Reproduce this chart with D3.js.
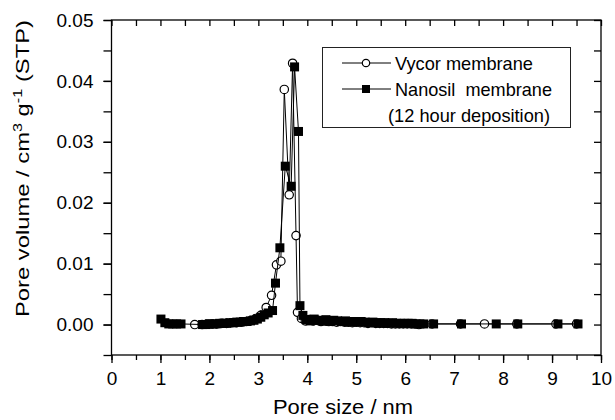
<!DOCTYPE html>
<html>
<head>
<meta charset="utf-8">
<script src="https://cdn.jsdelivr.net/npm/d3@7"></script>
<style>
body { margin: 0; background: #fff; }
text { font-family: Arial, "Liberation Sans", sans-serif; fill: #000; }
</style>
</head>
<body>
<div id="chart"></div>
<script>
// pore size (nm), pore volume (cm3/g STP)
var vycor = [
	[1.70, 0.0000], [1.85, 0.0000], [1.95, 0.0001], [2.05, 0.0001], [2.15, 0.0001],
	[2.25, 0.0002], [2.35, 0.0002], [2.45, 0.0003], [2.55, 0.0003], [2.65, 0.0004],
	[2.75, 0.0005], [2.85, 0.0007], [2.95, 0.0010], [3.05, 0.0015], [3.16, 0.0028],
	[3.27, 0.0048], [3.37, 0.0098], [3.46, 0.0104], [3.53, 0.0386], [3.63, 0.0213],
	[3.70, 0.0429], [3.77, 0.0146], [3.80, 0.0020], [3.88, 0.0010], [3.96, 0.0006],
	[4.04, 0.0008], [4.12, 0.0006], [4.20, 0.0007], [4.28, 0.0005], [4.36, 0.0006],
	[4.44, 0.0005], [4.52, 0.0005], [4.60, 0.0004], [4.68, 0.0005], [4.76, 0.0004],
	[4.84, 0.0004], [4.92, 0.0003], [5.00, 0.0004], [5.08, 0.0003], [5.16, 0.0003],
	[5.24, 0.0002], [5.32, 0.0003], [5.40, 0.0002], [5.48, 0.0002], [5.56, 0.0002],
	[5.64, 0.0002], [5.72, 0.0001], [5.80, 0.0001], [5.88, 0.0001], [5.96, 0.0001],
	[6.04, 0.0001], [6.12, 0.0001], [6.20, 0.0001], [6.28, 0.0000], [6.55, 0.0001],
	[7.13, 0.0001], [7.62, 0.0001], [8.28, 0.0001], [9.08, 0.0001], [9.50, 0.0001]
];

var nanosil = [
	[1.01, 0.0009], [1.09, 0.0003], [1.17, 0.0001], [1.25, 0.0001], [1.33, 0.0001],
	[1.42, 0.0001], [1.86, 0.0000], [1.93, 0.0000], [2.00, 0.0001], [2.07, 0.0001],
	[2.14, 0.0001], [2.21, 0.0002], [2.28, 0.0002], [2.35, 0.0002], [2.42, 0.0003],
	[2.49, 0.0003], [2.56, 0.0004], [2.63, 0.0004], [2.70, 0.0005], [2.77, 0.0005],
	[2.84, 0.0006], [2.91, 0.0007], [2.98, 0.0009], [3.05, 0.0012], [3.12, 0.0016],
	[3.20, 0.0019], [3.29, 0.0023], [3.35, 0.0068], [3.44, 0.0126], [3.55, 0.0260],
	[3.67, 0.0227], [3.74, 0.0423], [3.82, 0.0317], [3.85, 0.0031], [3.91, 0.0015],
	[3.98, 0.0008], [4.06, 0.0006], [4.14, 0.0009], [4.22, 0.0007], [4.30, 0.0006],
	[4.38, 0.0008], [4.46, 0.0005], [4.54, 0.0007], [4.62, 0.0006], [4.70, 0.0005],
	[4.78, 0.0006], [4.86, 0.0004], [4.94, 0.0005], [5.02, 0.0004], [5.10, 0.0005],
	[5.18, 0.0004], [5.26, 0.0003], [5.34, 0.0004], [5.42, 0.0003], [5.50, 0.0003],
	[5.58, 0.0003], [5.66, 0.0002], [5.74, 0.0003], [5.82, 0.0002], [5.90, 0.0002],
	[5.98, 0.0002], [6.06, 0.0002], [6.14, 0.0002], [6.22, 0.0001], [6.30, 0.0001],
	[6.38, 0.0001], [6.58, 0.0001], [7.15, 0.0001], [7.86, 0.0001], [8.30, 0.0001],
	[9.12, 0.0001], [9.53, 0.0001]
];

var xTicks = [0, 1, 2, 3, 4, 5, 6, 7, 8, 9, 10];
var yTicks = [0.00, 0.01, 0.02, 0.03, 0.04, 0.05];
var legendLabels = ['Vycor membrane', 'Nanosil  membrane', '(12 hour deposition)'];

var W = 615, H = 420;
var pLeft = 111.5, pRight = 601, pTop = 20, pBottom = 355;

var svg = d3.select('#chart').append('svg').attr('width', W).attr('height', H);

var x = d3.scaleLinear().domain([0, 10]).range([pLeft, pRight]);
var y = d3.scaleLinear().domain([-0.005, 0.05]).range([pBottom, pTop]);

var xMinor = d3.range(0, 10.01, 0.5);
var yMinor = d3.range(-0.005, 0.0501, 0.005);

// frame
svg.append('rect')
	.attr('x', pLeft).attr('y', pTop)
	.attr('width', pRight - pLeft).attr('height', pBottom - pTop)
	.attr('fill', 'none').attr('stroke', '#000').attr('stroke-width', 1.3);

// bottom axis (outward ticks)
svg.append('g')
	.attr('transform', 'translate(0,' + pBottom + ')')
	.call(d3.axisBottom(x).tickValues(xMinor).tickSize(5).tickFormat(''))
	.call(function(g) { g.select('.domain').remove(); });
svg.append('g')
	.attr('transform', 'translate(0,' + pBottom + ')')
	.call(d3.axisBottom(x).tickValues(xTicks).tickSize(8).tickPadding(9).tickFormat(d3.format('d')))
	.call(function(g) {
		g.select('.domain').remove();
		g.selectAll('text').style('font-size', '19px').attr('font-family', null);
	});

// top axis (inward ticks)
svg.append('g')
	.attr('transform', 'translate(0,' + pTop + ')')
	.call(d3.axisBottom(x).tickValues(xMinor).tickSize(6).tickFormat(''))
	.call(function(g) { g.select('.domain').remove(); });

// left axis (outward ticks)
svg.append('g')
	.attr('transform', 'translate(' + pLeft + ',0)')
	.call(d3.axisLeft(y).tickValues(yMinor).tickSize(8).tickFormat(''))
	.call(function(g) { g.select('.domain').remove(); });
svg.append('g')
	.attr('transform', 'translate(' + pLeft + ',0)')
	.call(d3.axisLeft(y).tickValues(yTicks).tickSize(8).tickPadding(10).tickFormat(d3.format('.2f')))
	.call(function(g) {
		g.select('.domain').remove();
		g.selectAll('text').style('font-size', '19px').attr('font-family', null);
	});

// right axis (inward ticks)
svg.append('g')
	.attr('transform', 'translate(' + pRight + ',0)')
	.call(d3.axisLeft(y).tickValues(yMinor).tickSize(7).tickFormat(''))
	.call(function(g) { g.select('.domain').remove(); });

svg.selectAll('.tick line').attr('stroke', '#000').attr('stroke-width', 1.3);

// axis titles
svg.append('text')
	.attr('x', 273).attr('y', 414)
	.attr('textLength', 140).attr('lengthAdjust', 'spacingAndGlyphs')
	.style('font-size', '19.5px')
	.text('Pore size / nm');

var yt = svg.append('text')
	.attr('transform', 'translate(29,317) rotate(-90)')
	.attr('textLength', 297).attr('lengthAdjust', 'spacingAndGlyphs')
	.style('font-size', '19px');
yt.append('tspan').text('Pore volume / cm');
yt.append('tspan').attr('dy', -7).style('font-size', '13px').text('3');
yt.append('tspan').attr('dy', 7).text(' g');
yt.append('tspan').attr('dy', -7).style('font-size', '13px').text('-1');
yt.append('tspan').attr('dy', 7).text(' (STP)');

var line = d3.line()
	.x(function(d) { return x(d[0]); })
	.y(function(d) { return y(d[1]); });

// Vycor
svg.append('path')
	.attr('d', line(vycor))
	.attr('fill', 'none').attr('stroke', '#000').attr('stroke-width', 1);
svg.append('g').selectAll('circle')
	.data(vycor)
	.enter().append('circle')
	.attr('cx', function(d) { return x(d[0]); })
	.attr('cy', function(d) { return y(d[1]); })
	.attr('r', 4.2)
	.attr('fill', '#fff').attr('stroke', '#000').attr('stroke-width', 1.2);

// Nanosil
svg.append('path')
	.attr('d', line(nanosil))
	.attr('fill', 'none').attr('stroke', '#000').attr('stroke-width', 1);
svg.append('g').selectAll('rect')
	.data(nanosil)
	.enter().append('rect')
	.attr('x', function(d) { return x(d[0]) - 4.5; })
	.attr('y', function(d) { return y(d[1]) - 4.5; })
	.attr('width', 9).attr('height', 9)
	.attr('fill', '#000');

// legend
var lg = svg.append('g');
lg.append('rect')
	.attr('x', 322.5).attr('y', 47.5).attr('width', 248).attr('height', 80)
	.attr('fill', '#fff').attr('stroke', '#222').attr('stroke-width', 1);

lg.append('line').attr('x1', 342).attr('x2', 391).attr('y1', 63).attr('y2', 63).attr('stroke', '#000');
lg.append('circle').attr('cx', 366).attr('cy', 63).attr('r', 3.7)
	.attr('fill', '#fff').attr('stroke', '#000').attr('stroke-width', 1.2);
lg.append('line').attr('x1', 342).attr('x2', 391).attr('y1', 89).attr('y2', 89).attr('stroke', '#000');
lg.append('rect').attr('x', 362).attr('y', 85).attr('width', 8).attr('height', 8).attr('fill', '#000');

lg.append('text').attr('x', 395).attr('y', 69.5).style('font-size', '18.5px')
	.attr('textLength', 138).attr('lengthAdjust', 'spacingAndGlyphs').text(legendLabels[0]);
lg.append('text').attr('x', 395).attr('y', 95.5).style('font-size', '18.5px')
	.attr('textLength', 157).attr('lengthAdjust', 'spacingAndGlyphs')
	.style('white-space', 'pre').text(legendLabels[1]);
lg.append('text').attr('x', 388).attr('y', 121.5).style('font-size', '18.5px')
	.attr('textLength', 162).attr('lengthAdjust', 'spacingAndGlyphs').text(legendLabels[2]);
</script>
</body>
</html>
